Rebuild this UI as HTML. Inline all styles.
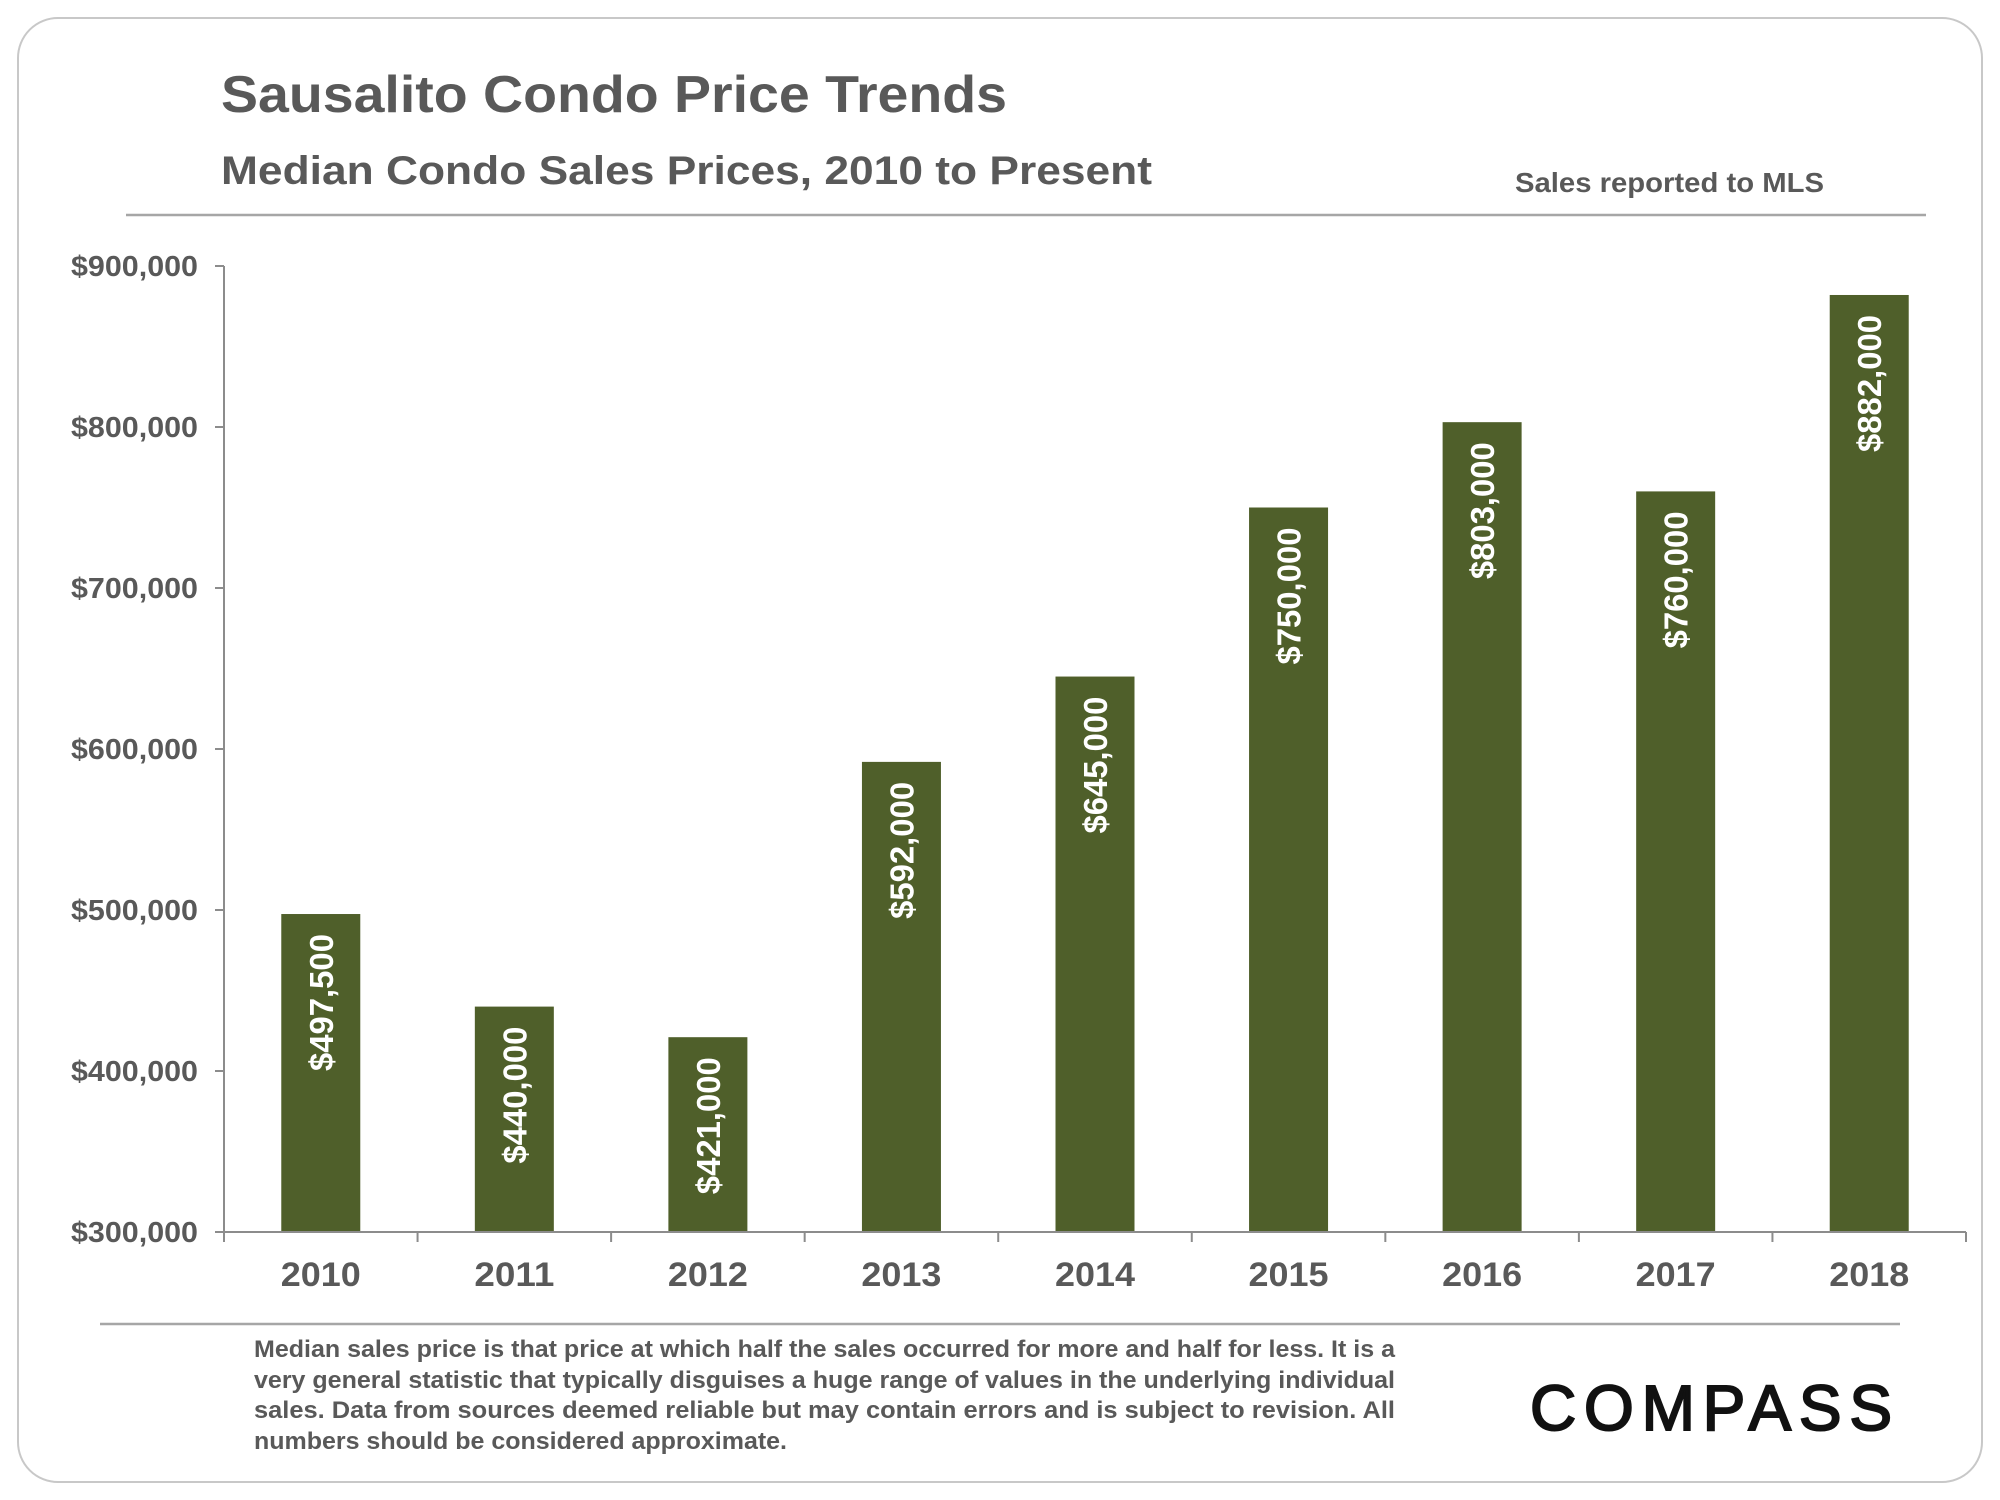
<!DOCTYPE html>
<html><head><meta charset="utf-8"><style>
html,body{margin:0;padding:0;background:#fff;}
svg{display:block;font-family:"Liberation Sans",sans-serif;}
</style></head><body>
<svg width="2000" height="1500" viewBox="0 0 2000 1500">
<rect x="18" y="18" width="1964" height="1464" rx="40" fill="#fff" stroke="#c8c8c8" stroke-width="2"/>
<text x="221" y="112" font-size="52" font-weight="bold" fill="#595959" textLength="786" lengthAdjust="spacingAndGlyphs">Sausalito Condo Price Trends</text>
<text x="221" y="184" font-size="40" font-weight="bold" fill="#595959" textLength="931" lengthAdjust="spacingAndGlyphs">Median Condo Sales Prices, 2010 to Present</text>
<text x="1515" y="192" font-size="28" font-weight="bold" fill="#595959" textLength="309" lengthAdjust="spacingAndGlyphs">Sales reported to MLS</text>
<line x1="126" y1="215" x2="1926" y2="215" stroke="#a6a6a6" stroke-width="2.5"/>
<g id="plot"></g>
<line x1="100" y1="1324" x2="1900" y2="1324" stroke="#a6a6a6" stroke-width="2.5"/>
<g font-size="24" font-weight="bold" fill="#595959">
<text x="254" y="1357" textLength="1141" lengthAdjust="spacingAndGlyphs">Median sales price is that price at which half the sales occurred for more and half for less. It is a</text>
<text x="254" y="1388" textLength="1141" lengthAdjust="spacingAndGlyphs">very general statistic that typically disguises a huge range of values in the underlying individual</text>
<text x="254" y="1418" textLength="1141" lengthAdjust="spacingAndGlyphs">sales. Data from sources deemed reliable but may contain errors and is subject to revision. All</text>
<text x="254" y="1449" textLength="533" lengthAdjust="spacingAndGlyphs">numbers should be considered approximate.</text>
</g>
<text x="1530" y="1430" font-size="64" fill="#111" stroke="#111" stroke-width="2" textLength="362" lengthAdjust="spacing">COMPASS</text>
</svg>
<script>
const categories=["2010","2011","2012","2013","2014","2015","2016","2017","2018"];
const values=[497500,440000,421000,592000,645000,750000,803000,760000,882000];
const valueLabels=["$497,500","$440,000","$421,000","$592,000","$645,000","$750,000","$803,000","$760,000","$882,000"];
const yTicks=[300000,400000,500000,600000,700000,800000,900000];
const yTickLabels=["$300,000","$400,000","$500,000","$600,000","$700,000","$800,000","$900,000"];

const NS="http://www.w3.org/2000/svg";
const g=document.getElementById('plot');
const X0=224,X1=1966,Y0=1232,Y1=266,YMIN=300000,YMAX=900000;
const slot=(X1-X0)/categories.length;
const y=v=>Y0-(v-YMIN)/(YMAX-YMIN)*(Y0-Y1);
const xc=i=>X0+slot*(i+0.5);
function mk(tag,attrs){const e=document.createElementNS(NS,tag);for(const k in attrs)e.setAttribute(k,attrs[k]);g.appendChild(e);return e;}

yTicks.forEach((t,i)=>{
  const tk=mk('line',{x1:X0-9,x2:X0,y1:y(t),y2:y(t),stroke:'#8c8c8c','stroke-width':2});
  
  
  const tx=mk('text',{x:198,y:y(t)+10,'text-anchor':'end','font-size':29,'font-weight':'bold',fill:'#595959',textLength:127,lengthAdjust:'spacingAndGlyphs'});
  tx.textContent=yTickLabels[i];
  
  
});
values.forEach((v,i)=>{
  const bw=79,cx=xc(i),top=y(v);
  const b=mk('rect',{x:cx-bw/2,y:top,width:bw,height:Y0-top,fill:'#4f5f2a'});
  
  
  const lx=cx+12,ly=top+20;
  const t=mk('text',{x:lx,y:ly,transform:`rotate(-90 ${lx} ${ly})`,'text-anchor':'end','font-size':33,'font-weight':'bold',fill:'#fff',textLength:137,lengthAdjust:'spacingAndGlyphs'});
  t.textContent=valueLabels[i];
  
  
  const xl=mk('text',{x:cx,y:1286,'text-anchor':'middle','font-size':34,'font-weight':'bold',fill:'#595959',textLength:80,lengthAdjust:'spacingAndGlyphs'});
  xl.textContent=categories[i];
  
  
});
for(let i=0;i<=categories.length;i++){
  const tk=mk('line',{x1:X0+slot*i,x2:X0+slot*i,y1:Y0,y2:Y0+10,stroke:'#8c8c8c','stroke-width':2});
  
  
}
const ya=mk('line',{x1:X0,x2:X0,y1:Y1,y2:Y0,stroke:'#8c8c8c','stroke-width':2});


const xa=mk('line',{x1:X0,x2:X1,y1:Y0,y2:Y0,stroke:'#8c8c8c','stroke-width':2});


</script>
</body></html>
